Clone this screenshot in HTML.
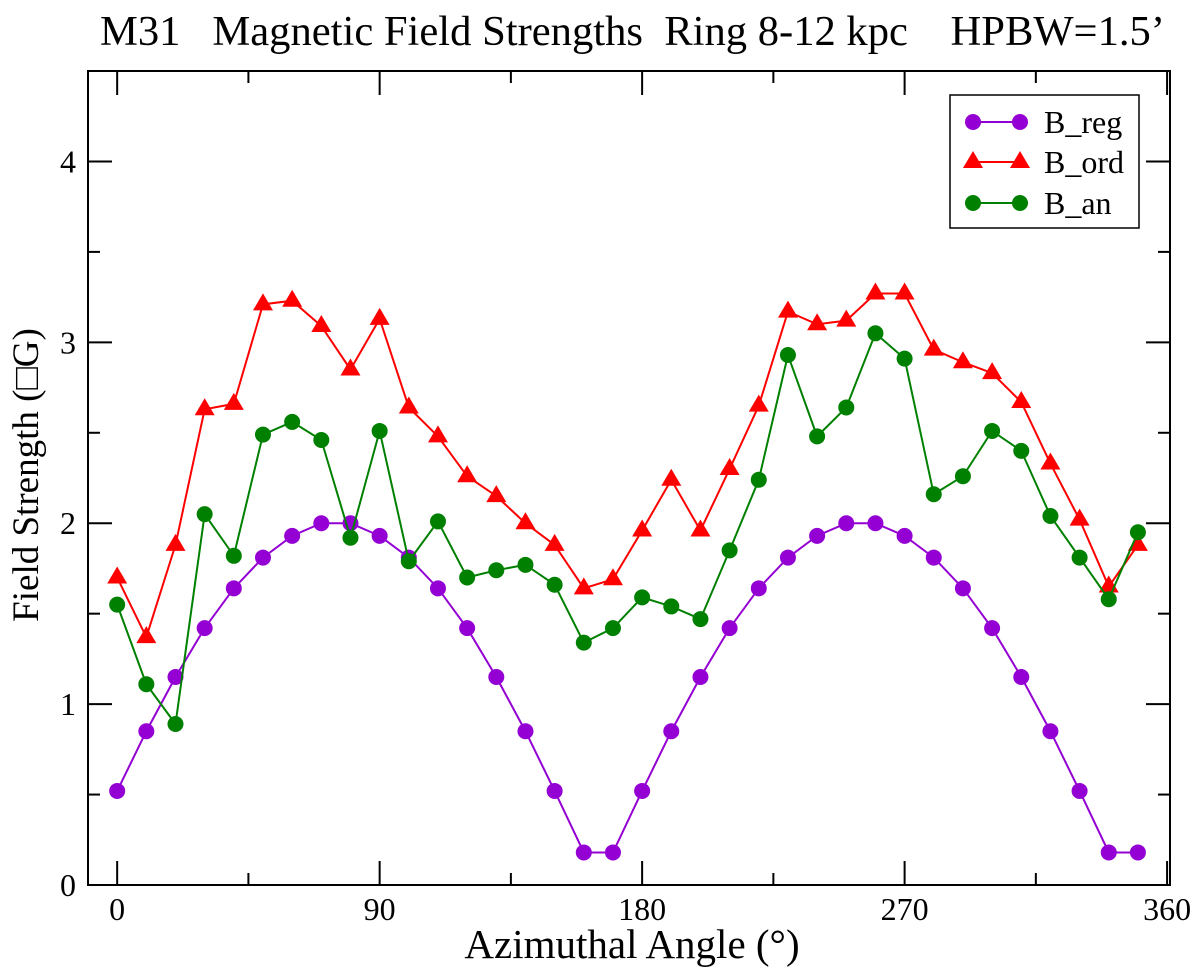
<!DOCTYPE html>
<html><head><meta charset="utf-8"><style>
html,body{margin:0;padding:0;background:#fff;}
svg text{font-family:"Liberation Serif",serif;fill:#000;}
</style></head><body>
<svg id="chart" width="1200" height="971" xmlns="http://www.w3.org/2000/svg">
<text x="100" y="45" font-size="42" textLength="1065" lengthAdjust="spacingAndGlyphs" xml:space="preserve">M31   Magnetic Field Strengths  Ring 8-12 kpc    HPBW=1.5’</text>
<g id="ticks"></g>
<g id="series"></g>
<rect x="88" y="71" width="1082" height="814" fill="none" stroke="#000" stroke-width="2"/>
<text x="632" y="958" font-size="41" text-anchor="middle">Azimuthal Angle (°)</text>
<text transform="translate(38,475) rotate(-90)" font-size="37" text-anchor="middle">Field Strength (□G)</text>
<g>
<rect x="950" y="95" width="189" height="133" fill="#fff" stroke="#000" stroke-width="1.5"/>
<g>
<line x1="973" y1="122" x2="1020" y2="122" stroke="#9400d3" stroke-width="2"/>
<circle cx="973" cy="122" r="8" fill="#9400d3"/><circle cx="1020" cy="122" r="8" fill="#9400d3"/>
<text x="1044" y="133" font-size="32">B_reg</text></g>
<g>
<line x1="973" y1="162" x2="1020" y2="162" stroke="#ff0000" stroke-width="2"/>
<polygon points="973,151 983,168 963,168" fill="#ff0000"/><polygon points="1020,151 1030,168 1010,168" fill="#ff0000"/>
<text x="1044" y="173" font-size="32">B_ord</text></g>
<g>
<line x1="973" y1="203" x2="1020" y2="203" stroke="#008000" stroke-width="2"/>
<circle cx="973" cy="203" r="8" fill="#008000"/><circle cx="1020" cy="203" r="8" fill="#008000"/>
<text x="1044" y="214" font-size="32">B_an</text></g>
</g>
</svg>
<script>
const angles=[0,10,20,30,40,50,60,70,80,90,100,110,120,130,140,150,160,170,180,190,200,210,220,230,240,250,260,270,280,290,300,310,320,330,340,350];
const bReg=[0.52,0.85,1.15,1.42,1.64,1.81,1.93,2.0,2.0,1.93,1.81,1.64,1.42,1.15,0.85,0.52,0.18,0.18,0.52,0.85,1.15,1.42,1.64,1.81,1.93,2.0,2.0,1.93,1.81,1.64,1.42,1.15,0.85,0.52,0.18,0.18];
const bOrd=[1.70,1.37,1.88,2.63,2.66,3.21,3.23,3.09,2.85,3.13,2.64,2.48,2.26,2.15,2.0,1.88,1.64,1.69,1.96,2.24,1.96,2.30,2.65,3.17,3.10,3.12,3.27,3.27,2.96,2.89,2.83,2.67,2.33,2.02,1.65,1.88];
const bAn=[1.55,1.11,0.89,2.05,1.82,2.49,2.56,2.46,1.92,2.51,1.79,2.01,1.70,1.74,1.77,1.66,1.34,1.42,1.59,1.54,1.47,1.85,2.24,2.93,2.48,2.64,3.05,2.91,2.16,2.26,2.51,2.40,2.04,1.81,1.58,1.95];
const xTicks=[0,90,180,270,360];
const xMinor=[45,135,225,315];
const yTicks=[0,1,2,3,4];
const yMinor=[0.5,1.5,2.5,3.5];
const NS='http://www.w3.org/2000/svg';
const L=88,R=1170,T=71,B=885,X0=-10,X1=361,Y0=0,Y1=4.5;
const sx=v=>L+(v-X0)/(X1-X0)*(R-L);
const sy=v=>B-(v-Y0)/(Y1-Y0)*(B-T);
function mk(tag,at,parent){const e=document.createElementNS(NS,tag);for(const k in at)e.setAttribute(k,at[k]);parent.appendChild(e);return e;}
const tg=document.getElementById('ticks');
xTicks.forEach(v=>{const x=sx(v);
 const a=mk('line',{x1:x,x2:x,y1:B,y2:B-24,stroke:'#000','stroke-width':2},tg);
 
 
 const b=mk('line',{x1:x,x2:x,y1:T,y2:T+24,stroke:'#000','stroke-width':2},tg);
 
 
 const t=mk('text',{x:x,y:B+35,'font-size':32,'text-anchor':'middle'},tg);t.textContent=v;
 
 });
xMinor.forEach(v=>{const x=sx(v);
 const a=mk('line',{x1:x,x2:x,y1:B,y2:B-12,stroke:'#000','stroke-width':2},tg);
 
 
 const b=mk('line',{x1:x,x2:x,y1:T,y2:T+12,stroke:'#000','stroke-width':2},tg);
 
 });
yTicks.forEach(v=>{const y=sy(v);
 const a=mk('line',{x1:L,x2:L+24,y1:y,y2:y,stroke:'#000','stroke-width':2},tg);
 
 
 const b=mk('line',{x1:R,x2:R-24,y1:y,y2:y,stroke:'#000','stroke-width':2},tg);
 
 
 const t=mk('text',{x:76,y:y+11,'font-size':32,'text-anchor':'end'},tg);t.textContent=v;
 
 });
yMinor.forEach(v=>{const y=sy(v);
 const a=mk('line',{x1:L,x2:L+12,y1:y,y2:y,stroke:'#000','stroke-width':2},tg);
 
 
 const b=mk('line',{x1:R,x2:R-12,y1:y,y2:y,stroke:'#000','stroke-width':2},tg);
 
 });
const sg=document.getElementById('series');
function draw(vals,color,shape,name){
 const g=mk('g',{},sg);
 
 
 const pts=vals.map((v,i)=>sx(angles[i])+','+sy(v)).join(' ');
 const pl=mk('polyline',{points:pts,fill:'none',stroke:color,'stroke-width':2},g);
 
 
 vals.forEach((v,i)=>{const x=sx(angles[i]),y=sy(v);let m;
  if(shape==='tri')m=mk('polygon',{points:`${x},${y-11} ${x+10},${y+6} ${x-10},${y+6}`,fill:color},g);
  else m=mk('circle',{cx:x,cy:y,r:8,fill:color},g);
  
  });
}
draw(bReg,'#9400d3','circle','b-reg');
draw(bOrd,'#ff0000','tri','b-ord');
draw(bAn,'#008000','circle','b-an');
</script>
</body></html>
